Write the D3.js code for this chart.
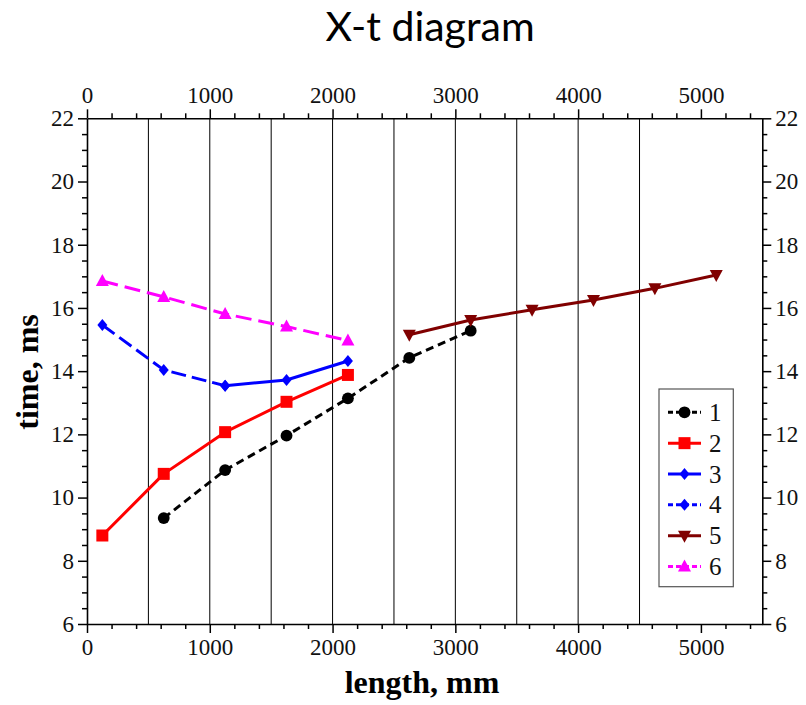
<!DOCTYPE html>
<html>
<head>
<meta charset="utf-8">
<script src="https://cdn.jsdelivr.net/npm/d3@7"></script>
<style>
  html, body { margin: 0; padding: 0; background: #fff; }
  svg { display: block; }
</style>
</head>
<body>
<script>
// ---- data ----
const xTicks = [0, 1000, 2000, 3000, 4000, 5000];
const yTicks = [6, 8, 10, 12, 14, 16, 18, 20, 22];
const gridX = [500, 1000, 1500, 2000, 2500, 3000, 3500, 4000, 4500];
const seriesNames = ["1", "2", "3", "4", "5", "6"];

const s1x = [625, 1125, 1625, 2125, 2625, 3125];
const s1y = [9.35, 10.87, 11.96, 13.14, 14.42, 15.28];
const s2x = [125, 625, 1125, 1625, 2125];
const s2y = [8.8, 10.75, 12.07, 13.03, 13.88];
const s3x = [1125, 1625, 2125];
const s3y = [13.54, 13.72, 14.32];
const s4x = [125, 625, 1125];
const s4y = [15.46, 14.04, 13.54];
const s5x = [2625, 3125, 3625, 4125, 4625, 5125];
const s5y = [15.15, 15.62, 15.94, 16.25, 16.62, 17.04];
const s6x = [125, 625, 1125, 1625, 2125];
const s6y = [16.85, 16.35, 15.81, 15.41, 14.97];

// ---- styles ----
const styles = [
  {color: "#000000", dash: "8,5", marker: "circle"},
  {color: "#ff0000", dash: null, marker: "square"},
  {color: "#0000ff", dash: null, marker: "diamond"},
  {color: "#0000ff", dash: "15,6", marker: "diamond"},
  {color: "#800000", dash: null, marker: "tridown"},
  {color: "#ff00ff", dash: "16,7", marker: "triup"}
];
const series = [
  [s1x, s1y], [s2x, s2y], [s3x, s3y], [s4x, s4y], [s5x, s5y], [s6x, s6y]
].map((p, i) => ({name: seriesNames[i], pts: p[0].map((v, j) => [v, p[1][j]]), ...styles[i]}));

const W = 806, H = 705;
const L = 87, R = 762.3, T = 118.3, B = 624;
const x = d3.scaleLinear().domain([0, 5500]).range([L, R]);
const y = d3.scaleLinear().domain([6, 22]).range([B, T]);

const svg = d3.select("body").append("svg").attr("width", W).attr("height", H);

// title
svg.append("text").attr("x", 430).attr("y", 41).attr("text-anchor", "middle")
  .style("font-family", "Lato, 'Open Sans', sans-serif").style("font-size", "41px")
  .text("X-t diagram");

// grid
svg.append("g").selectAll("line").data(gridX).join("line")
  .attr("x1", d => x(d)).attr("x2", d => x(d)).attr("y1", T).attr("y2", B)
  .attr("stroke", "#000").attr("stroke-width", 1);

const tickFont = "'Liberation Serif', 'Times New Roman', serif";
const minorX = d3.range(0, 5501, 200).filter(v => v % 1000 !== 0);
const minorY = d3.range(6, 22.01, 0.5).filter(v => v % 2 !== 0);

function styleAxis(g) {
  g.select(".domain").attr("stroke", "#000").attr("stroke-width", 1.6);
  g.selectAll(".tick line").attr("stroke", "#000").attr("stroke-width", 1.5);
  g.selectAll(".tick text").style("font-family", tickFont).style("font-size", "23px").attr("fill", "#111");
}

// bottom
const gb = svg.append("g").attr("transform", `translate(0,${B})`)
  .call(d3.axisBottom(x).tickValues(xTicks).tickFormat(d3.format("d")).tickSize(9).tickSizeOuter(0).tickPadding(6));
styleAxis(gb);
svg.append("g").attr("transform", `translate(0,${B})`)
  .call(d3.axisBottom(x).tickValues(minorX).tickFormat("").tickSize(5).tickSizeOuter(0))
  .call(g => { g.select(".domain").remove(); g.selectAll("line").attr("stroke-width", 1.5); });

// top
const gt = svg.append("g").attr("transform", `translate(0,${T})`)
  .call(d3.axisTop(x).tickValues(xTicks).tickFormat(d3.format("d")).tickSize(9).tickSizeOuter(0).tickPadding(6));
styleAxis(gt);
svg.append("g").attr("transform", `translate(0,${T})`)
  .call(d3.axisTop(x).tickValues(minorX).tickFormat("").tickSize(5).tickSizeOuter(0))
  .call(g => { g.select(".domain").remove(); g.selectAll("line").attr("stroke-width", 1.5); });

// left
const gl = svg.append("g").attr("transform", `translate(${L},0)`)
  .call(d3.axisLeft(y).tickValues(yTicks).tickSize(9).tickSizeOuter(0).tickPadding(4));
styleAxis(gl);
svg.append("g").attr("transform", `translate(${L},0)`)
  .call(d3.axisLeft(y).tickValues(minorY).tickFormat("").tickSize(5).tickSizeOuter(0))
  .call(g => { g.select(".domain").remove(); g.selectAll("line").attr("stroke-width", 1.5); });

// right
const gr = svg.append("g").attr("transform", `translate(${R},0)`)
  .call(d3.axisRight(y).tickValues(yTicks).tickSize(9).tickSizeOuter(0).tickPadding(4));
styleAxis(gr);
svg.append("g").attr("transform", `translate(${R},0)`)
  .call(d3.axisRight(y).tickValues(minorY).tickFormat("").tickSize(5).tickSizeOuter(0))
  .call(g => { g.select(".domain").remove(); g.selectAll("line").attr("stroke-width", 1.5); });

// axis titles
const titleFont = "'Liberation Serif', 'Times New Roman', serif";
svg.append("text").attr("x", 422).attr("y", 693).attr("text-anchor", "middle")
  .style("font-family", titleFont).style("font-size", "32px").style("font-weight", "bold")
  .text("length, mm");
svg.append("text").attr("transform", `translate(38,372) rotate(-90)`).attr("text-anchor", "middle")
  .style("font-family", titleFont).style("font-size", "32px").style("font-weight", "bold")
  .text("time, ms");

// markers
function markerPath(type) {
  switch (type) {
    case "circle": return d3.symbol(d3.symbolCircle, 110)();
    case "square": return "M-6,-6h12v12h-12z";
    case "diamond": return "M0,-6L5,0L0,6L-5,0Z";
    case "triup": return "M0,-7L6.5,5L-6.5,5Z";
    case "tridown": return "M0,7L6.5,-5L-6.5,-5Z";
  }
}

const line = d3.line().x(d => x(d[0])).y(d => y(d[1]));
const plot = svg.append("g");
series.forEach(s => {
  plot.append("path").attr("d", line(s.pts)).attr("fill", "none")
    .attr("stroke", s.color).attr("stroke-width", 3)
    .attr("stroke-dasharray", s.dash).attr("stroke-linejoin", "round");
  plot.append("g").selectAll("path").data(s.pts).join("path")
    .attr("transform", d => `translate(${x(d[0])},${y(d[1])})`)
    .attr("d", markerPath(s.marker)).attr("fill", s.color);
});

// legend
const lg = svg.append("g");
lg.append("rect").attr("x", 659).attr("y", 389).attr("width", 74.3).attr("height", 197.7)
  .attr("fill", "#fff").attr("stroke", "#555").attr("stroke-width", 1.2);
series.forEach((s, i) => {
  const ry = 412.3 + i * 30.85;
  lg.append("line").attr("x1", 668).attr("x2", 701).attr("y1", ry).attr("y2", ry)
    .attr("stroke", s.color).attr("stroke-width", 3).attr("stroke-dasharray", s.dash ? "5,3" : null);
  lg.append("path").attr("transform", `translate(684.5,${ry})`).attr("d", markerPath(s.marker)).attr("fill", s.color);
  lg.append("text").attr("x", 709).attr("y", ry + 8.5)
    .style("font-family", tickFont).style("font-size", "25px").attr("fill", "#111").text(s.name);
});
</script>
</body>
</html>
